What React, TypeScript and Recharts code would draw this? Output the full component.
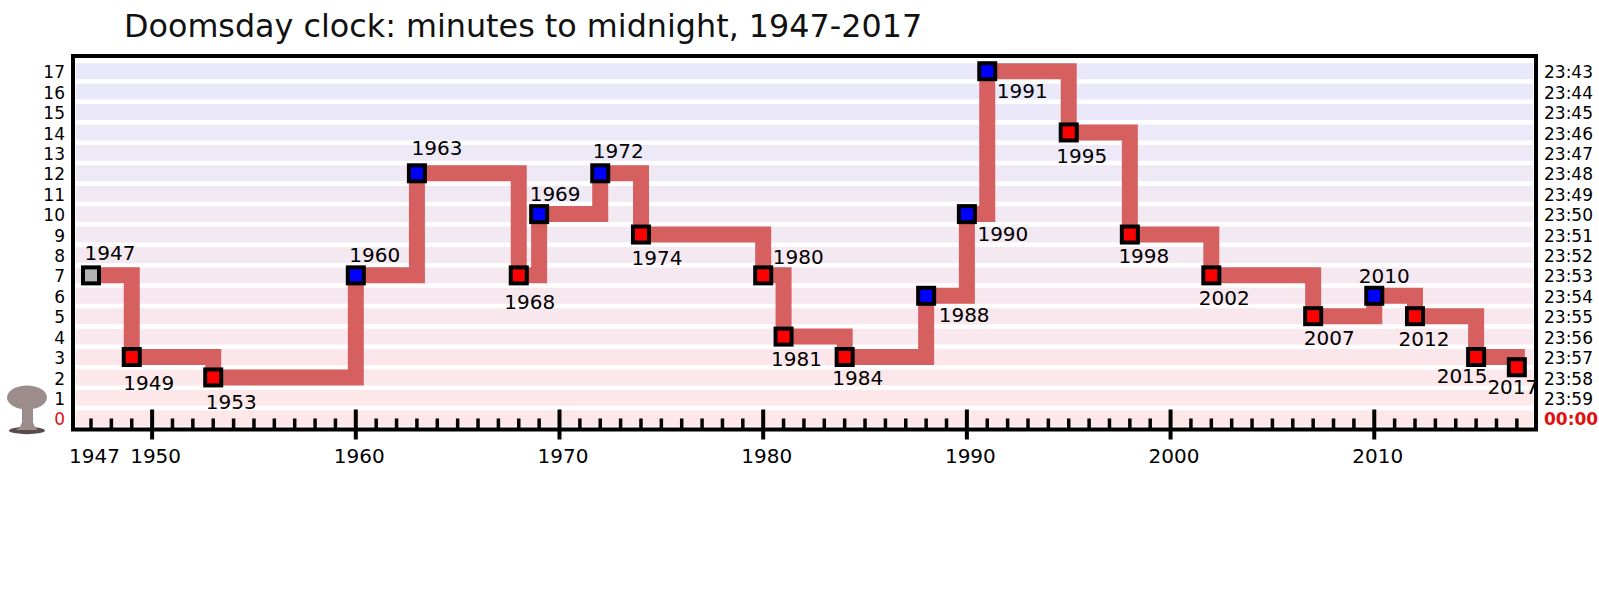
import { LineChart, Line, XAxis, YAxis, ReferenceArea } from 'recharts'

const years = [1947, 1949, 1953, 1960, 1963, 1968, 1969, 1972, 1974, 1980, 1981, 1984, 1988, 1990, 1991, 1995, 1998, 2002, 2007, 2010, 2012, 2015, 2017]
const minutes = [7, 3, 2, 7, 12, 7, 10, 12, 9, 7, 4, 3, 6, 10, 17, 14, 9, 7, 5, 6, 5, 3, 2.5]
const kinds = ['start', 'closer', 'closer', 'farther', 'farther', 'closer', 'farther', 'farther', 'closer', 'closer', 'closer', 'closer', 'farther', 'farther', 'farther', 'closer', 'closer', 'closer', 'closer', 'farther', 'closer', 'closer', 'closer']

const xLabels = [1947, 1950, 1960, 1970, 1980, 1990, 2000, 2010]
const yTicks = [17, 16, 15, 14, 13, 12, 11, 10, 9, 8, 7, 6, 5, 4, 3, 2, 1, 0]
const clockLabels = ['23:43', '23:44', '23:45', '23:46', '23:47', '23:48', '23:49', '23:50', '23:51', '23:52', '23:53', '23:54', '23:55', '23:56', '23:57', '23:58', '23:59', '00:00']

// where each year's caption sits relative to its marker
const labelOffsets = [
  [19, -23], [17, 26], [18, 24], [19, -21], [20, -25], [11, 26], [16, -20], [18, -22], [16, 23], [35, -19], [13, 22], [13, 21],
  [38, 19], [36, 20], [35, 20], [13, 23], [14, 21], [13, 22], [16, 22], [10, -20], [9, 23], [-14, 19], [-4, 20],
]

const bandColors = ['#e9e9fb', '#eae9fa', '#ebe9f9', '#ece9f8', '#eee9f7', '#efe9f5', '#f0e9f4', '#f2e9f3', '#f3e9f2', '#f5e9f1', '#f6e8f0', '#f7e8ef', '#f8e8ee', '#f9e8ed', '#fbe7eb', '#fce7ea', '#fde7e9', '#fde7e9']
const markerColors: Record<string, string> = { start: '#b3b3b3', closer: '#ff0000', farther: '#0000ff' }

const data = years.map((year, i) => ({ year, minutes: minutes[i], kind: kinds[i], offset: labelOffsets[i] }))

const allYears = Array.from({ length: 71 }, (_, i) => 1947 + i)
const X_MIN = 1946.116
const X_MAX = 2017.94
const Y_MIN = -0.55
const Y_MAX = 17.745
const FONT = '"DejaVu Sans", sans-serif'

function YearTick({ x, y, payload }: any) {
  const year = payload.value
  const major = year % 10 === 0
  return (
    <g>
      <line x1={x} x2={x} y1={major ? y - 20 : y - 11} y2={major ? y + 10 : y} stroke="#000" strokeWidth={major ? 4 : 3.5} />
      {xLabels.includes(year) && (
        <text x={x + 3.5} y={y + 33} textAnchor="middle" fontSize={20} fontFamily={FONT} fill="#000">
          {year}
        </text>
      )}
    </g>
  )
}

function MinuteTick({ x, y, payload }: any) {
  return (
    <text x={x} y={y + 1} dy="0.36em" textAnchor="end" fontSize={17} fontFamily={FONT} fill={payload.value === 0 ? '#e01010' : '#000'}>
      {payload.value}
    </text>
  )
}

function ClockTick({ x, y, payload }: any) {
  const zero = payload.value === 0
  return (
    <text x={x} y={y + 1} dy="0.36em" textAnchor="start" fontSize={17} fontWeight={zero ? 'bold' : 'normal'} fontFamily={FONT} fill={zero ? '#e01010' : '#000'}>
      {clockLabels[yTicks.indexOf(payload.value)]}
    </text>
  )
}

function Marker({ cx, cy, payload }: any) {
  return (
    <g key={payload.year}>
      <rect x={cx - 8} y={cy - 8} width={16} height={16} fill={markerColors[payload.kind]} stroke="#000" strokeWidth={4} />
      <text x={cx + payload.offset[0]} y={cy + payload.offset[1]} dy="0.36em" textAnchor="middle" fontSize={20} fontFamily={FONT} fill="#000" clipPath="url(#frameClip)">
        {payload.year}
      </text>
    </g>
  )
}

export default function App() {
  return (
    <div style={{ position: 'absolute', left: 0, top: 0, width: 1599, height: 604, background: '#fff' }}>
      <div style={{ position: 'absolute', left: 124, top: 7, fontFamily: FONT, fontSize: 31.8, color: '#111', whiteSpace: 'nowrap' }}>
        Doomsday clock: minutes to midnight, 1947-2017
      </div>
      <LineChart width={1599} height={604} data={data} margin={{ top: 56, right: 0, bottom: 0, left: 0 }}>
        <defs>
          <clipPath id="frameClip">
            <rect x={0} y={0} width={1535} height={604} />
          </clipPath>
        </defs>
        <XAxis
          dataKey="year"
          type="number"
          domain={[X_MIN, X_MAX]}
          allowDataOverflow
          ticks={allYears}
          interval={0}
          height={174.5}
          tick={<YearTick />}
          tickLine={false}
          axisLine={false}
          tickSize={0}
          tickMargin={0}
        />
        <YAxis yAxisId="left" type="number" domain={[Y_MIN, Y_MAX]} allowDataOverflow ticks={yTicks} interval={0} width={73} tick={<MinuteTick />} tickLine={false} axisLine={false} tickSize={0} tickMargin={8} />
        <YAxis yAxisId="right" orientation="right" type="number" domain={[Y_MIN, Y_MAX]} allowDataOverflow ticks={yTicks} interval={0} width={63} tick={<ClockTick />} tickLine={false} axisLine={false} tickSize={0} tickMargin={8} />
        {yTicks.map((v, i) => (
          <ReferenceArea key={v} yAxisId="left" x1={1946.26} x2={2017.79} y1={v - 0.39} y2={v + 0.39} fill={bandColors[i]} fillOpacity={1} stroke="none" ifOverflow="visible" />
        ))}
        <ReferenceArea yAxisId="left" x1={X_MIN} x2={X_MAX} y1={Y_MIN} y2={Y_MAX} fill="none" stroke="#000" strokeWidth={4} ifOverflow="visible" />
        <Line
          yAxisId="left"
          dataKey="minutes"
          type="stepAfter"
          stroke="#d65f5f"
          strokeWidth={16}
          strokeLinejoin="miter"
          strokeLinecap="butt"
          dot={(props: any) => <Marker key={props.payload.year} {...props} />}
          activeDot={false}
          isAnimationActive={false}
        />
      </LineChart>
      <svg style={{ position: 'absolute', left: 0, top: 380 }} width={60} height={60}>
        <ellipse cx={27} cy={50.5} rx={18} ry={3.7} fill="#5a4a4a" />
        <path d="M22 24 L33 24 L33 42 Q34 47 38 50 L16 50 Q21 47 22 42 Z" fill="#9c8c8c" />
        <ellipse cx={27} cy={17.5} rx={20} ry={12} fill="#9c8c8c" />
      </svg>
    </div>
  )
}
